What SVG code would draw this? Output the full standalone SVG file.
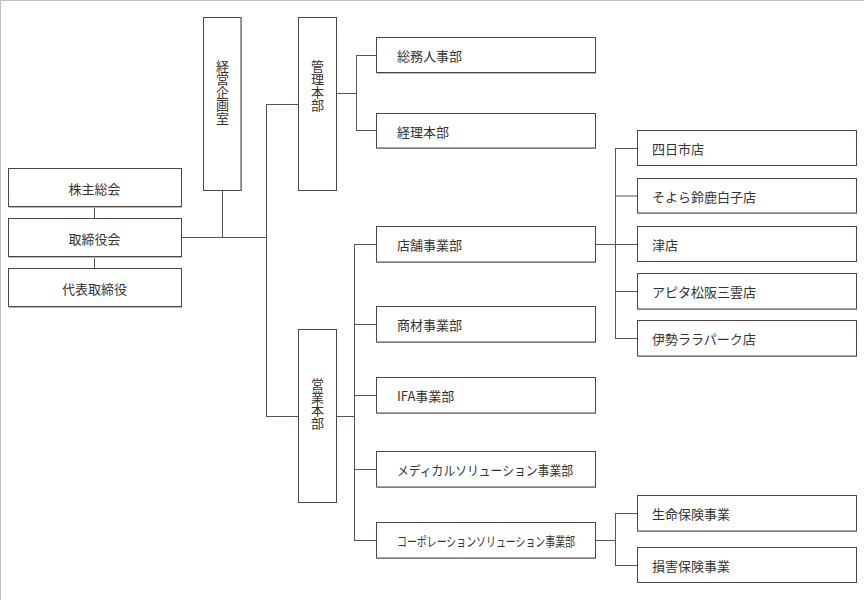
<svg xmlns="http://www.w3.org/2000/svg" width="864" height="600" viewBox="0 0 864 600">
<style>
.box{fill:#fff;stroke:#4d4646;stroke-width:1}
.sh{fill:#b8b8b8}
.t{font-family:"Noto Sans CJK JP","Noto Sans",sans-serif;font-size:13px;fill:#333;dominant-baseline:central}
.c{text-anchor:middle}
.v{font-family:"Noto Sans CJK JP","Noto Sans",sans-serif;font-size:13px;fill:#333;writing-mode:vertical-rl;text-anchor:middle}
.ln{stroke:#5a5555;stroke-width:1;fill:none}
</style>
<rect width="864" height="600" fill="#fff"/>
<path d="M0.5,600V0.5H864" stroke="#bdbdbd" stroke-width="1" fill="none"/>
<g id="connectors">
<path class="ln" d="M94.5,207V218M94.5,257V268"/>
<path class="ln" d="M181,237.5H266M222.5,191V237.5"/>
<path class="ln" d="M266.5,104V416M266,104.5H298M266,416.5H298"/>
<path class="ln" d="M337,93.5H356M356.5,55.5V130.5M356,55.5H376M356,130.5H376"/>
<path class="ln" d="M337,416.5H354M354.5,244.5V540.5M354,244.5H376M354,324.5H376M354,395.5H376M354,469.5H376M354,540.5H376"/>
<path class="ln" d="M596,244.5H615M615.5,148V338.5M615,148.5H638M615,196H638M615,244.5H638M615,291.5H638M615,338.5H638"/>
<path class="ln" d="M596,540.5H615M615.5,513V565.5M615,513.5H638M615,565.5H638"/>
</g>
<g id="kabunushi"><rect class="sh" x="9" y="169" width="173" height="39"/><rect class="box" x="8.5" y="168.5" width="173" height="38"/><text class="t c" x="94.5" y="188">株主総会</text></g>
<g id="torishimariyakukai"><rect class="sh" x="9" y="219" width="173" height="39"/><rect class="box" x="8.5" y="218.5" width="173" height="38"/><text class="t c" x="94.5" y="238">取締役会</text></g>
<g id="daihyo"><rect class="sh" x="9" y="269" width="173" height="39"/><rect class="box" x="8.5" y="268.5" width="173" height="38"/><text class="t c" x="94.5" y="288">代表取締役</text></g>
<g id="keieikikaku"><rect class="sh" x="204" y="18" width="38" height="173"/><rect class="box" x="203.5" y="17.5" width="37.5" height="173"/><text class="v" x="222.5" y="92">経営企画室</text></g>
<g id="kanri"><rect class="sh" x="299" y="18" width="38" height="173"/><rect class="box" x="298.5" y="17.5" width="38" height="173"/><text class="v" x="317.5" y="86">管理本部</text></g>
<g id="eigyo"><rect class="sh" x="299" y="330" width="38" height="173"/><rect class="box" x="298.5" y="329.5" width="38" height="173"/><text class="v" x="317.5" y="404">営業本部</text></g>
<g id="somu"><rect class="sh" x="377" y="38" width="219" height="36"/><rect class="box" x="376.5" y="37.5" width="219" height="35"/><text class="t" x="397" y="55.5">総務人事部</text></g>
<g id="keiri"><rect class="sh" x="377" y="114" width="219" height="35"/><rect class="box" x="376.5" y="113.5" width="219" height="34.5"/><text class="t" x="397" y="131">経理本部</text></g>
<g id="tenpo"><rect class="sh" x="377" y="227" width="219" height="36"/><rect class="box" x="376.5" y="226.5" width="219" height="35.5"/><text class="t" x="397" y="244.5">店舗事業部</text></g>
<g id="shozai"><rect class="sh" x="377" y="307" width="219" height="36"/><rect class="box" x="376.5" y="306.5" width="219" height="35.5"/><text class="t" x="397" y="324.5">商材事業部</text></g>
<g id="ifa"><rect class="sh" x="377" y="378" width="219" height="36"/><rect class="box" x="376.5" y="377.5" width="219" height="35.5"/><text class="t" x="397" y="395.5">IFA事業部</text></g>
<g id="medical"><rect class="sh" x="377" y="452" width="219" height="36"/><rect class="box" x="376.5" y="451.5" width="219" height="35.5"/><text class="t" x="397" y="469.5" textLength="176" lengthAdjust="spacingAndGlyphs">メディカルソリューション事業部</text></g>
<g id="corporation"><rect class="sh" x="377" y="523" width="219" height="36"/><rect class="box" x="376.5" y="522.5" width="219" height="35.5"/><text class="t" x="397" y="540.5" textLength="178" lengthAdjust="spacingAndGlyphs">コーポレーションソリューション事業部</text></g>
<g id="yokkaichi"><rect class="sh" x="638" y="131" width="219" height="35"/><rect class="box" x="637.5" y="130.5" width="219" height="35"/><text class="t" x="652" y="148.5">四日市店</text></g>
<g id="soyora"><rect class="sh" x="638" y="179" width="219" height="35"/><rect class="box" x="637.5" y="178.5" width="219" height="34.5"/><text class="t" x="652" y="196">そよら鈴鹿白子店</text></g>
<g id="tsu"><rect class="sh" x="638" y="227" width="219" height="35"/><rect class="box" x="637.5" y="226.5" width="219" height="35"/><text class="t" x="652" y="244.5">津店</text></g>
<g id="apita"><rect class="sh" x="638" y="274" width="219" height="36"/><rect class="box" x="637.5" y="273.5" width="219" height="35.5"/><text class="t" x="652" y="291.5">アピタ松阪三雲店</text></g>
<g id="ise"><rect class="sh" x="638" y="321" width="219" height="36"/><rect class="box" x="637.5" y="320.5" width="219" height="35.5"/><text class="t" x="652" y="338.5">伊勢ララパーク店</text></g>
<g id="seimei"><rect class="sh" x="638" y="496" width="219" height="36"/><rect class="box" x="637.5" y="495.5" width="219" height="35.5"/><text class="t" x="652" y="513.5">生命保険事業</text></g>
<g id="songai"><rect class="sh" x="638" y="548" width="219" height="35"/><rect class="box" x="637.5" y="547.5" width="219" height="35"/><text class="t" x="652" y="565.5">損害保険事業</text></g>
</svg>
